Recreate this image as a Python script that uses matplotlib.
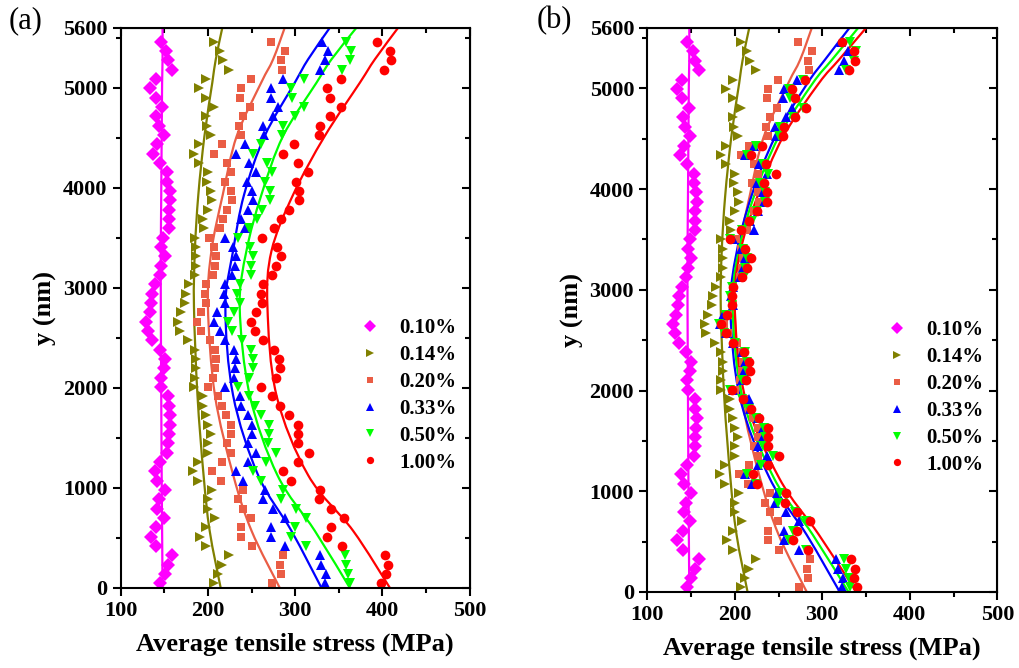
import matplotlib.pyplot as plt
from matplotlib.path import Path
from matplotlib.patches import PathPatch
from matplotlib.ticker import MultipleLocator

plt.rcParams['font.family'] = ['Liberation Serif', 'DejaVu Serif']
plt.rcParams['font.weight'] = 'bold'
plt.rcParams['axes.labelweight'] = 'bold'

labels = ['0.10%', '0.14%', '0.20%', '0.33%', '0.50%', '1.00%']
colors = ['#FF00FF', '#808000', '#EA5D45', '#0000FF', '#00FF00', '#FF0000']
markers = ['D', '>', 's', '^', 'v', 'o']
msizes = [7.5, 7.5, 6, 7.5, 7.5, 7]

# sampling depths (nm), top to bottom
y_pts = [5460, 5367, 5273, 5180, 5087, 4993, 4900, 4807, 4713, 4620, 4527,
         4433, 4340, 4247, 4153, 4060, 3967, 3873, 3780, 3687, 3593, 3500,
         3407, 3313, 3220, 3127, 3033, 2940, 2847, 2753, 2660, 2567, 2473,
         2380, 2287, 2193, 2100, 2007, 1913, 1820, 1727, 1633, 1540, 1447,
         1353, 1260, 1167, 1073, 980, 887, 793, 700, 607, 513, 420,
         327, 233, 140, 47]

# ---- panel (a) points (MPa)
a_010 = [145.8, 152.3, 154.2, 158.8, 140.1, 134.0, 140.1, 147.7, 140.9, 143.5, 149.3,
         141.6, 137.0, 145.5, 153.1, 153.5, 156.2, 156.9, 155.0, 155.0, 155.0, 148.5, 146.6,
         150.4, 146.6, 144.7, 139.7, 136.3, 135.1, 133.2, 129.4, 131.3, 136.3, 144.7, 150.4,
         149.3, 145.8, 146.6, 154.2, 155.0, 156.9, 156.2, 155.0, 154.2, 153.1, 145.5, 139.0,
         142.0, 150.4, 143.9, 142.0, 149.3, 140.9, 134.4, 140.9, 158.8, 154.2, 150.4, 145.5]
a_014 = [206.6, 213.5, 217.3, 224.2, 197.4, 189.8, 197.4, 206.6, 198.2, 199.4, 203.9,
         189.8, 183.7, 189.8, 200.1, 199.4, 203.9, 205.1, 200.1, 194.4, 195.5, 184.8, 186.7,
         186.7, 186.7, 184.8, 178.0, 175.3, 173.4, 169.5, 165.7, 167.6, 177.2, 184.8, 186.7,
         186.0, 184.8, 184.1, 194.4, 194.4, 198.2, 200.1, 203.2, 200.1, 200.1, 188.7, 182.9,
         188.7, 205.1, 200.1, 200.1, 207.8, 198.2, 190.6, 198.2, 224.2, 216.6, 211.6, 206.6]
a_020 = [272.8, 288.1, 284.2, 285.4, 249.8, 237.6, 236.4, 247.9, 240.3, 235.7, 237.6,
         216.6, 206.6, 222.0, 226.9, 219.2, 226.9, 227.6, 222.3, 217.3, 213.5, 200.9, 207.0,
         209.7, 207.8, 205.9, 198.2, 197.1, 198.2, 192.5, 187.9, 192.5, 202.0, 207.8, 209.7,
         208.5, 205.9, 200.1, 211.6, 216.6, 221.1, 226.1, 226.9, 222.3, 226.9, 216.6, 205.1,
         214.6, 240.3, 234.5, 240.3, 249.1, 237.6, 237.6, 251.0, 286.1, 283.1, 284.2, 273.9]
a_033 = [331.2, 337.8, 333.9, 328.2, 286.1, 272.8, 272.0, 280.4, 274.7, 263.2, 264.4,
         242.2, 232.6, 247.1, 255.6, 245.2, 251.0, 251.7, 246.0, 237.6, 242.2, 220.0, 228.8,
         232.6, 230.7, 227.6, 220.0, 218.5, 220.0, 210.8, 207.0, 213.5, 220.0, 229.9, 232.6,
         231.5, 229.9, 220.0, 236.4, 237.6, 246.0, 251.0, 251.0, 246.0, 255.6, 246.0, 232.6,
         240.3, 265.1, 263.2, 274.7, 288.1, 272.8, 272.8, 288.1, 328.2, 330.1, 335.8, 333.9]
a_050 = [358.8, 364.5, 362.6, 354.2, 310.2, 295.7, 296.5, 310.2, 299.5, 286.1, 285.0,
         261.3, 251.7, 268.2, 273.5, 265.1, 270.8, 270.8, 262.1, 256.7, 247.1, 234.5, 247.9,
         251.7, 249.8, 249.1, 236.4, 233.8, 236.4, 229.9, 223.1, 228.0, 239.1, 249.8, 251.7,
         251.7, 247.1, 234.5, 247.1, 253.6, 261.3, 269.7, 270.1, 268.9, 278.5, 266.3, 251.7,
         261.3, 286.1, 284.2, 301.4, 312.9, 299.5, 295.7, 312.9, 356.9, 358.8, 360.7, 362.6]
a_100 = [394.3, 408.5, 409.6, 402.0, 352.3, 337.0, 340.4, 353.0, 340.4, 328.2, 327.0,
         298.8, 286.1, 303.3, 314.8, 301.4, 304.5, 304.5, 293.0, 284.2, 275.4, 262.1, 279.3,
         283.5, 278.5, 273.5, 263.2, 261.3, 262.1, 255.6, 249.1, 254.4, 263.2, 275.8, 281.6,
         282.3, 277.7, 261.3, 273.9, 283.1, 293.0, 303.3, 303.3, 303.3, 315.6, 303.3, 286.1,
         295.7, 328.2, 327.4, 341.6, 355.7, 341.6, 337.0, 354.2, 402.7, 405.8, 404.6, 397.8]

# ---- panel (b) points (MPa); 0.10 %, 0.14 %, 0.20 % are the same as in (a)
b_033 = [321.9, 329.3, 325.0, 318.6, 271.4, 256.5, 255.6, 265.0, 258.7, 245.8, 247.1,
         222.3, 211.5, 227.8, 237.3, 225.6, 232.1, 232.9, 226.5, 217.1, 222.3, 197.4, 207.3,
         211.5, 209.4, 205.9, 197.4, 195.7, 197.4, 187.1, 182.8, 190.1, 197.4, 208.5, 211.5,
         210.3, 208.5, 197.4, 215.8, 217.1, 226.5, 232.1, 232.1, 226.5, 237.3, 226.5, 211.5,
         220.1, 247.9, 245.8, 258.7, 273.7, 256.5, 256.5, 273.7, 316.0, 318.0, 324.0, 322.0]
b_050 = [331.7, 338.0, 335.9, 326.6, 278.2, 262.3, 263.2, 278.2, 266.5, 251.7, 250.5,
         224.4, 213.9, 232.0, 237.9, 228.6, 234.9, 234.9, 225.3, 219.4, 208.8, 195.0, 209.7,
         213.9, 211.8, 211.0, 197.0, 194.2, 197.0, 189.9, 182.4, 187.8, 200.0, 211.8, 213.9,
         213.9, 208.8, 195.0, 208.8, 216.0, 224.4, 233.7, 234.1, 232.8, 243.4, 229.9, 213.9,
         224.4, 251.7, 249.6, 268.5, 281.2, 266.5, 262.3, 281.2, 325.0, 327.0, 330.0, 332.0]
b_100 = [322.3, 336.5, 337.6, 330.0, 280.3, 265.0, 268.4, 281.0, 268.4, 256.2, 255.0,
         230.8, 218.1, 235.3, 246.8, 233.4, 236.5, 236.5, 225.0, 216.2, 207.4, 194.1, 211.3,
         218.5, 213.5, 208.5, 198.2, 196.3, 197.1, 190.6, 184.1, 189.4, 198.2, 210.8, 216.6,
         217.3, 212.7, 196.3, 208.9, 218.1, 228.0, 238.3, 238.3, 238.3, 250.6, 238.3, 221.1,
         225.7, 258.2, 257.4, 271.6, 285.7, 271.6, 267.0, 284.2, 332.7, 337.0, 336.0, 340.0]

# ---- fitted curves (read at these depths)
fit_y = [0, 570, 1127, 1927, 2810, 3367, 3930, 4517, 5050, 5284, 5600]
fa_010 = [148.0, 147.5, 147.0, 146.5, 146.0, 146.0, 146.5, 147.0, 147.5, 148.0, 148.0]
fa_014 = [214.6, 202.0, 195.0, 188.0, 184.0, 185.0, 189.0, 196.0, 205.0, 209.0, 216.5]
fa_020 = [282.3, 250.0, 229.0, 208.0, 200.0, 204.0, 217.0, 233.0, 261.0, 274.7, 288.0]
fa_033 = [330.1, 295.7, 257.5, 228.8, 220.0, 228.8, 241.4, 265.0, 299.5, 314.8, 339.7]
fa_050 = [362.6, 322.5, 279.6, 247.9, 236.4, 244.1, 261.3, 286.1, 324.4, 341.6, 370.2]
fa_100 = [408.5, 366.4, 314.8, 278.5, 268.2, 272.8, 297.6, 333.9, 374.1, 391.3, 418.0]
fb_033 = [320.0, 282.0, 240.0, 206.0, 195.0, 202.0, 219.0, 246.0, 283.0, 303.0, 331.0]
fb_050 = [330.0, 289.0, 245.0, 209.0, 197.5, 204.0, 222.0, 250.0, 289.0, 311.0, 341.0]
fb_100 = [339.0, 296.0, 251.0, 212.0, 200.0, 206.0, 226.0, 255.0, 296.0, 319.0, 350.0]

pts_a = [a_010, a_014, a_020, a_033, a_050, a_100]
fits_a = [fa_010, fa_014, fa_020, fa_033, fa_050, fa_100]
pts_b = [a_010, a_014, a_020, b_033, b_050, b_100]
fits_b = [fa_010, fa_014, fa_020, fb_033, fb_050, fb_100]


def smooth_path(xs, ys):
    # smooth line through the read curve points (Catmull-Rom as Bezier)
    p = list(zip(xs, ys))
    n = len(p)
    verts = [p[0]]
    codes = [Path.MOVETO]
    for i in range(n - 1):
        p0 = p[i - 1] if i > 0 else p[i]
        p1, p2 = p[i], p[i + 1]
        p3 = p[i + 2] if i + 2 < n else p[i + 1]
        c1 = (p1[0] + (p2[0] - p0[0]) / 6, p1[1] + (p2[1] - p0[1]) / 6)
        c2 = (p2[0] - (p3[0] - p1[0]) / 6, p2[1] - (p3[1] - p1[1]) / 6)
        verts += [c1, c2, p2]
        codes += [Path.CURVE4] * 3
    return Path(verts, codes)


def draw_panel(ax, pts, fits, leg_anchor):
    for i in range(6):
        ax.plot(pts[i], y_pts, ls='none', marker=markers[i], ms=msizes[i],
                color=colors[i], mew=0, label=labels[i])
    for i in range(6):
        ax.add_patch(PathPatch(smooth_path(fits[i], fit_y), fill=False,
                               edgecolor=colors[i], lw=1.6))
    ax.set_xlim(100, 500)
    ax.set_ylim(0, 5600)
    ax.set_xticks([100, 200, 300, 400, 500])
    ax.set_yticks([0, 1000, 2000, 3000, 4000, 5000, 5600])
    ax.xaxis.set_minor_locator(MultipleLocator(50))
    ax.yaxis.set_minor_locator(MultipleLocator(500))
    ax.tick_params(which='both', direction='out', width=1.5, labelsize=16,
                   top=False, right=False)
    ax.tick_params(which='major', length=6)
    ax.tick_params(which='minor', length=3.5)
    for lbl in ax.get_xticklabels() + ax.get_yticklabels():
        lbl.set_fontweight('bold')
    for s in ax.spines.values():
        s.set_linewidth(1.5)
    top = ax.secondary_xaxis('top')
    top.set_xticks([100, 200, 300, 400, 500])
    top.xaxis.set_minor_locator(MultipleLocator(50))
    top.tick_params(which='both', direction='in', labeltop=False, width=1.5)
    top.tick_params(which='major', length=6)
    top.tick_params(which='minor', length=3.5)
    right = ax.secondary_yaxis('right')
    right.set_yticks([0, 1000, 2000, 3000, 4000, 5000])
    right.yaxis.set_minor_locator(MultipleLocator(500))
    right.tick_params(which='both', direction='in', labelright=False, width=1.5)
    right.tick_params(which='major', length=6)
    right.tick_params(which='minor', length=3.5)
    ax.set_xlabel('Average tensile stress (MPa)', fontsize=19,
                  fontweight='bold', labelpad=8)
    ax.set_ylabel('y (nm)', fontsize=19, fontweight='bold', labelpad=4)
    ax.legend(loc='upper left', bbox_to_anchor=leg_anchor, frameon=False,
              prop={'size': 15, 'weight': 'bold'}, markerscale=0.75,
              handlelength=1.0, handletextpad=0.9, labelspacing=0.33,
              borderpad=0)


fig = plt.figure(figsize=(10.2, 6.68), dpi=100)
ax_a = fig.add_axes([0.1183, 0.120, 0.3422, 0.8385])
ax_b = fig.add_axes([0.6346, 0.1138, 0.3431, 0.8443])
draw_panel(ax_a, pts_a, fits_a, (0.655, 0.50))
draw_panel(ax_b, pts_b, fits_b, (0.655, 0.50))

fig.text(0.008, 0.958, '(a)', fontsize=22, fontweight='normal')
fig.text(0.526, 0.958, '(b)', fontsize=22, fontweight='normal')

fig.savefig('out.png', dpi=100)
